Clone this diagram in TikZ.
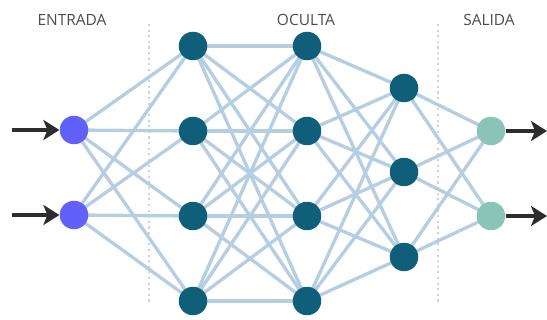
\documentclass[tikz,border=0pt]{standalone}
\usepackage{fontspec}
\setmainfont{Open Sans}
\usetikzlibrary{arrows.meta,backgrounds}
\definecolor{inblue}{RGB}{98,96,250}
\definecolor{deepteal}{RGB}{15,94,122}
\definecolor{seafoam}{RGB}{138,196,183}
\definecolor{wire}{RGB}{182,206,225}
\definecolor{ink}{RGB}{45,45,45}
\definecolor{sep}{RGB}{214,208,210}
\tikzset{
  neuron/.style={circle, fill=#1, minimum size=0.57cm, inner sep=0pt},
  neuron/.default={deepteal},
  wirestyle/.style={draw=wire, line width=1.9pt},
  arrow/.style={-{Stealth[length=3.2mm, width=4mm, inset=0.8mm]}, line width=2.2pt, draw=ink},
  sepline/.style={draw=sep, line width=1.2pt, dotted},
  head/.style={font=\fontsize{8.8}{10}\selectfont, text=ink!85}
}

\begin{document}
\begin{tikzpicture}[x=0.02cm, y=-0.02cm]
    \useasboundingbox (0,0) rectangle (547,320);

    % layer headings
    \node[head] (tin) at (72,20) {ENTRADA};
    \node[head] (thid) at (306,20) {OCULTA};
    \node[head] (tout) at (489,20) {SALIDA};

    % neurons
    \node[neuron=inblue] (i1) at (74,130) {};
    \node[neuron=inblue] (i2) at (74,215) {};
    \node[neuron] (a1) at (193,46) {};
    \node[neuron] (a2) at (193,131) {};
    \node[neuron] (a3) at (193,216) {};
    \node[neuron] (a4) at (193,301) {};
    \node[neuron] (b1) at (307,46) {};
    \node[neuron] (b2) at (307,131) {};
    \node[neuron] (b3) at (307,216) {};
    \node[neuron] (b4) at (307,301) {};
    \node[neuron] (c1) at (404,88) {};
    \node[neuron] (c2) at (404,172) {};
    \node[neuron] (c3) at (404,257) {};
    \node[neuron=seafoam] (o1) at (491,131) {};
    \node[neuron=seafoam] (o2) at (491,216) {};

    % dotted separators
    \coordinate (s1t) at (149,24);
    \coordinate (s1b) at (149,302);
    \coordinate (s2t) at (438,24);
    \coordinate (s2b) at (438,302);

    % in / out arrows
    \coordinate (x1) at (12,130);
    \coordinate (x2) at (12,215);
    \coordinate (y1) at (547,131);
    \coordinate (y2) at (547,216);
    \draw[arrow] (x1) -- (i1);
    \draw[arrow] (x2) -- (i2);
    \draw[arrow] (o1) -- (y1);
    \draw[arrow] (o2) -- (y2);

    \begin{scope}[on background layer]
      \draw[sepline] (s1t) -- (s1b);
      \draw[sepline] (s2t) -- (s2b);
      \foreach \p in {i1,i2} \foreach \q in {a1,a2,a3,a4}
        \draw[wirestyle] (\p.center) -- (\q.center);
      \foreach \p in {a1,a2,a3,a4} \foreach \q in {b1,b2,b3,b4}
        \draw[wirestyle] (\p.center) -- (\q.center);
      \foreach \p in {b1,b2,b3,b4} \foreach \q in {c1,c2,c3}
        \draw[wirestyle] (\p.center) -- (\q.center);
      \foreach \p in {c1,c2,c3} \foreach \q in {o1,o2}
        \draw[wirestyle] (\p.center) -- (\q.center);
    \end{scope}
\end{tikzpicture}
\end{document}
